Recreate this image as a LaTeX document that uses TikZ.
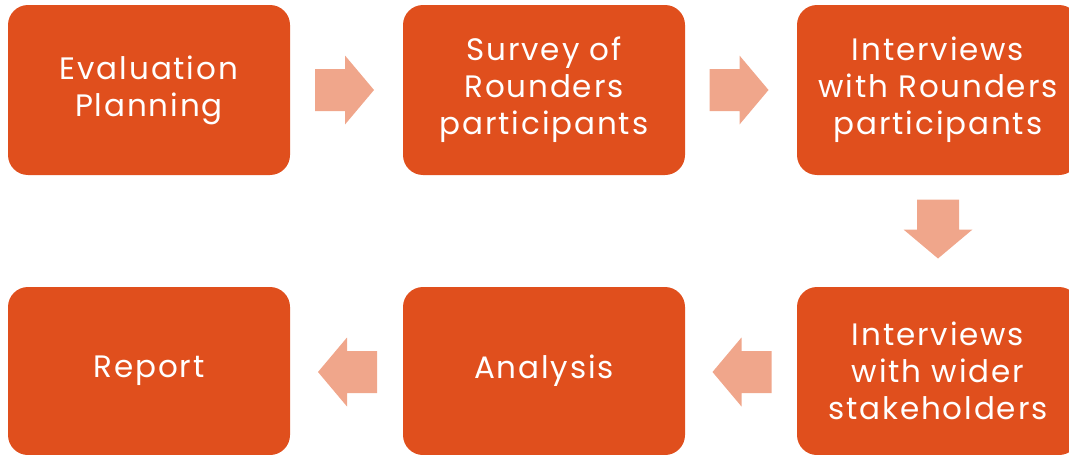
\documentclass[tikz,border=0pt]{standalone}
\usepackage{fontspec}
\setmainfont{Poppins}[LetterSpace=6]
\usetikzlibrary{calc}
\definecolor{boxorange}{HTML}{E04F1D}
\definecolor{arrowpeach}{HTML}{F0A68B}
\begin{document}
\begin{tikzpicture}[x=1pt,y=-1pt,
  stepbox/.style={fill=boxorange, rounded corners=20pt, minimum width=282pt,
    minimum height=170pt, inner sep=0pt, align=center, text=white,
    font=\fontsize{31}{37}\selectfont},
  lowbox/.style={stepbox, minimum height=168pt},
  blockarrow/.pic={
    \fill[arrowpeach] (-29.5,-21) -- (0.5,-21) -- (0.5,-34.5) -- (29.5,0)
      -- (0.5,34.5) -- (0.5,21) -- (-29.5,21) -- cycle;}]
\useasboundingbox (0,0) rectangle (1069,455);
\clip (0,0) rectangle (1069,455);
% top row
\node[stepbox] (b1) at (149,90) {\vspace*{5pt}Evaluation\\Planning};
\node[stepbox] (b2) at (544,90) {\vspace*{5pt}Survey of\\Rounders\\participants};
\node[stepbox] (b3) at (938,90) {\vspace*{5pt}Interviews\\with Rounders\\participants};
% bottom row
\node[lowbox] (b4) at (938,371) {\vspace*{5pt}Interviews\\with wider\\stakeholders};
\node[lowbox] (b5) at (544,371) {\vspace*{5pt}Analysis};
\node[lowbox] (b6) at (149,371) {\vspace*{5pt}Report};
% block arrows between the steps
\pic at ([xshift=-2pt]$(b1.east)!0.5!(b2.west)$) {blockarrow};
\pic at ([xshift=-2pt]$(b2.east)!0.5!(b3.west)$) {blockarrow};
\pic[rotate=-90] at ([yshift=2pt]$(b3.south)!0.5!(b4.north)$) {blockarrow};
\pic[rotate=180] at ([xshift=1pt,yshift=-1pt]$(b4.west)!0.5!(b5.east)$) {blockarrow};
\pic[rotate=180] at ([xshift=1pt,yshift=-1pt]$(b5.west)!0.5!(b6.east)$) {blockarrow};
\end{tikzpicture}
\end{document}
